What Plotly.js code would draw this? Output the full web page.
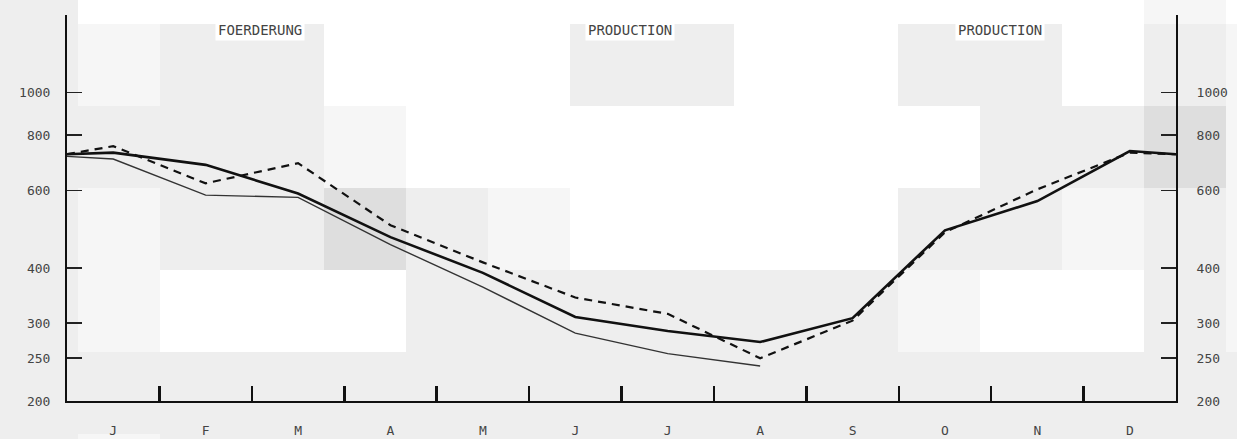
<!DOCTYPE html>
<html>
<head>
<meta charset="utf-8">
<script src="https://cdn.plot.ly/plotly-3.0.1.min.js"></script>
<style>
  html, body { margin: 0; padding: 0; background: #eeeeee; }
  #chart { width: 1237px; height: 439px; }
</style>
</head>
<body>
<div id="chart"></div>
<script>
// ---- data ----
const months = ['J', 'F', 'M', 'A', 'M', 'J', 'J', 'A', 'S', 'O', 'N', 'D'];
const thickSeries  = [730, 685, 590, 470, 390, 310, 288, 272, 308, 487, 567, 736];
const thinSeries   = [706, 585, 578, 452, 362, 285, 256, 240, null, null, null, null];
const dashedSeries = [755, 622, 691, 500, 412, 343, 315, 250, 304, 482, 603, 730];
// values where each curve meets the left (year start) and right (year end) axis
const thickEdges  = [724, 724];
const thinEdges   = [716, null];
const dashedEdges = [724, 724];
const yTickVals  = [200, 250, 300, 400, 600, 800, 1000];
const yTickText  = ['200', '250', '300', '400', '600', '800', '1000'];
const panelTitles = ['FOERDERUNG', 'PRODUCTION', 'PRODUCTION'];

// ---- geometry ----
const W = 1237, H = 439;
const M = { l: 67, r: 61, t: 15, b: 38 };
const PW = W - M.l - M.r, PH = H - M.t - M.b;
const px2x = px => (px - M.l) / PW;
const py2y = py => (H - M.b - py) / PH;

function build(values, edges) {
  const xs = [], ys = [];
  if (edges[0] != null) { xs.push(-0.5); ys.push(edges[0]); }
  values.forEach((v, i) => { if (v != null) { xs.push(i); ys.push(v); } });
  if (edges[1] != null) { xs.push(months.length - 0.5); ys.push(edges[1]); }
  return { xs, ys };
}

const a = build(thickSeries, thickEdges);
const b = build(thinSeries, thinEdges);
const c = build(dashedSeries, dashedEdges);

const traces = [
  { x: b.xs, y: b.ys, type: 'scatter', mode: 'lines', line: { color: '#333', width: 1.4 }, hoverinfo: 'skip' },
  { x: c.xs, y: c.ys, type: 'scatter', mode: 'lines', line: { color: '#111', width: 2.2, dash: '8px,6px' }, hoverinfo: 'skip' },
  { x: a.xs, y: a.ys, type: 'scatter', mode: 'lines', line: { color: '#111', width: 2.6 }, hoverinfo: 'skip' },
  { x: [0], y: [null], yaxis: 'y2', type: 'scatter', mode: 'lines', showlegend: false, hoverinfo: 'skip' }
];

// ---- mosaic background tiles ----
const colEdges = [0, 78, 160, 242, 324, 406, 488, 570, 652, 734, 816, 898, 980, 1062, 1144, 1226, 1237];
const rowEdges = [0, 24, 106, 188, 270, 352, 434, 439];
const tileRows = [
  'GWWWWWWWWWWWWWLW',
  'GLGGWWWGGWWGGWGL',
  'GGGGLWWWWWWWGGDL',
  'GLGGDGLWWWWGGLGL',
  'GLWWWGGGGGGLWWGL',
  'GGGGGGGGGGGGGGGG',
  'GLGGGGGGGGGGGGGG'
];
const shade = { G: '#eeeeee', L: '#f6f6f6', W: '#ffffff', D: '#dedede' };
const shapes = [];
tileRows.forEach((row, r) => {
  for (let k = 0; k < row.length; k++) {
    shapes.push({
      type: 'rect', xref: 'paper', yref: 'paper', layer: 'below',
      x0: px2x(colEdges[k]), x1: px2x(colEdges[k + 1]),
      y0: py2y(rowEdges[r + 1]), y1: py2y(rowEdges[r]),
      fillcolor: shade[row[k]], line: { width: 0 }
    });
  }
});

const tickFont = { family: 'DejaVu Sans Mono, monospace', size: 13, color: '#444' };
const titleXs = [260, 630, 1000];
const annotations = panelTitles.map((t, i) => ({
  text: t, xref: 'paper', yref: 'paper', x: px2x(titleXs[i]), y: py2y(30),
  xanchor: 'center', yanchor: 'middle', showarrow: false,
  bgcolor: '#ffffff', borderpad: 2,
  font: { family: 'DejaVu Sans Mono, monospace', size: 14, color: '#444' }
}));

const boundaries = months.slice(1).map((m, i) => i + 0.5);

const layout = {
  width: W, height: H,
  margin: M,
  paper_bgcolor: 'rgba(0,0,0,0)',
  plot_bgcolor: 'rgba(0,0,0,0)',
  showlegend: false,
  shapes: shapes,
  annotations: annotations,
  xaxis: {
    range: [-0.5, months.length - 0.5],
    tickvals: months.map((m, i) => i),
    ticktext: months,
    ticks: 'outside', ticklen: 16, tickcolor: 'rgba(0,0,0,0)',
    tickfont: tickFont,
    showgrid: false, zeroline: false,
    showline: true, linecolor: '#111', linewidth: 2,
    minor: { tickvals: boundaries, ticks: 'inside', ticklen: 15, tickwidth: 2.5, tickcolor: '#111', showgrid: false },
    fixedrange: true
  },
  yaxis: {
    type: 'log',
    range: [Math.log10(200), Math.log10(1496)],
    tickvals: yTickVals, ticktext: yTickText,
    ticks: 'inside', ticklen: 15, tickwidth: 1.5, tickcolor: '#222',
    tickfont: tickFont, ticklabelstandoff: 12,
    showgrid: false, zeroline: false,
    showline: true, linecolor: '#111', linewidth: 2,
    fixedrange: true
  },
  yaxis2: {
    type: 'log', overlaying: 'y', side: 'right', anchor: 'x', matches: 'y',
    range: [Math.log10(200), Math.log10(1496)],
    tickvals: yTickVals, ticktext: yTickText,
    ticks: 'inside', ticklen: 15, tickwidth: 1.5, tickcolor: '#222',
    tickfont: tickFont, ticklabelstandoff: 16,
    showgrid: false, zeroline: false,
    showline: true, linecolor: '#111', linewidth: 2,
    fixedrange: true
  }
};

Plotly.newPlot('chart', traces, layout, { staticPlot: true, displayModeBar: false });
</script>
</body>
</html>
